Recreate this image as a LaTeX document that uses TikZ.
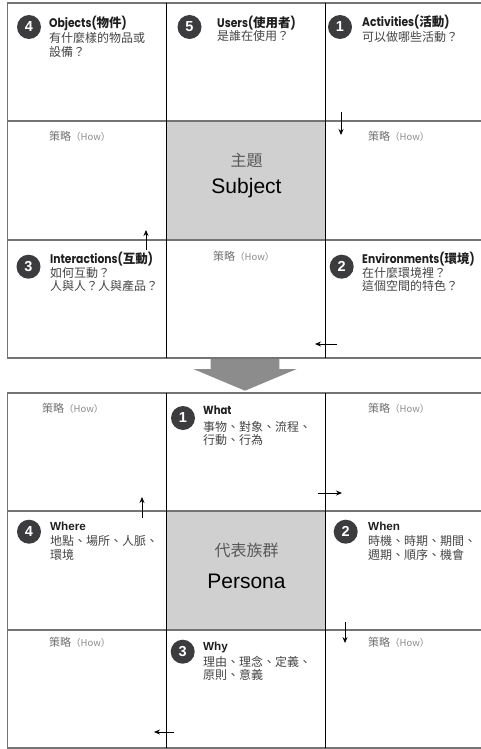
\documentclass[tikz,border=0pt]{standalone}
\usepackage{fontspec}
\setmainfont{Noto Sans CJK TC}
\newfontfamily\titlefont{Poppins}[FakeStretch=0.86]
\newfontfamily\sansfont{Liberation Sans}
\usetikzlibrary{arrows.meta}
\definecolor{hline}{HTML}{747474}
\definecolor{cellgray}{HTML}{D0D0D0}
\definecolor{circ}{HTML}{3C3C3F}
\definecolor{bodytext}{HTML}{454545}
\definecolor{howgray}{HTML}{707070}
\definecolor{bigarrow}{HTML}{8C8C8C}
\newcommand{\ttlmix}[2]{{\titlefont\bfseries #1(}{\bfseries #2}{\titlefont\bfseries )}}
\tikzset{
  hl/.style={draw=hline, line width=1.6pt},
  vl/.style={draw=black, line width=1pt},
  num/.style={circle, fill=circ, text=white, minimum size=24pt, inner sep=0pt,
    font=\sansfont\bfseries\fontsize{14.5}{14.5}\selectfont},
  ttl/.style={anchor=base west, inner sep=0pt, text=black!88,
    font=\fontsize{12.5}{13}\selectfont},
  sttl/.style={anchor=base west, inner sep=0pt, text=black!88,
    font=\sansfont\bfseries\fontsize{11.7}{13}\selectfont},
  body/.style={anchor=base west, inner sep=0pt, text=bodytext,
    font=\fontsize{12}{13}\selectfont},
  how/.style={anchor=west, inner sep=0pt, text=howgray,
    font=\fontsize{11}{12}\selectfont},
  zh/.style={inner sep=0pt, text=black!65, font=\fontsize{16}{16}\selectfont},
  en/.style={inner sep=0pt, text=black, font=\sansfont\fontsize{21}{21}\selectfont},
  flow/.style={draw=black, line width=0.8pt, -{Stealth[length=6pt,width=5pt]}}
}
\newcommand{\howtext}{策略{\fontsize{9.5}{9.5}\selectfont\color{howgray!80}（How）}}
\begin{document}
\begin{tikzpicture}[x=1pt,y=-1pt]
\useasboundingbox (0,0) rectangle (481,749);
\fill[white] (0,0) rectangle (481,749);
% center cells
\fill[cellgray] (166,121) rectangle (325,240);
\fill[cellgray] (166,511) rectangle (325,630);
% top grid
\foreach \y in {3,121,240,358} { \draw[hl] (7,\y) -- (481,\y); }
\draw[hl] (7.5,3) -- (7.5,358);
\foreach \x in {166,325} { \draw[vl] (\x,3) -- (\x,358); }
% bottom grid
\foreach \y in {393,511,630,748} { \draw[hl] (7,\y) -- (481,\y); }
\draw[hl] (7.5,393) -- (7.5,748);
\foreach \x in {166,325} { \draw[vl] (\x,393) -- (\x,748); }
% big arrow
\fill[bigarrow] (210.7,359) -- (279.3,359) -- (279.3,369) -- (296.7,369)
  -- (245,390.7) -- (193.3,369) -- (210.7,369) -- cycle;

% ---------- top grid texts ----------
\node[num] (t4) at (29,27) {4};
\node[ttl] (t4a) at (49,28) {\ttlmix{Objects}{物件}};
\node[body] (t4b) at (49,42.5) {有什麼樣的物品或};
\node[body] (t4c) at (49,56.5) {設備？};

\node[num] (t5) at (189.5,27) {5};
\node[ttl] (t5a) at (217,27.5) {\ttlmix{Users}{使用者}};
\node[body] (t5b) at (217,41) {是誰在使用？};

\node[num] (t1) at (340,27) {1};
\node[ttl] (t1a) at (362,27) {\ttlmix{Activities}{活動}};
\node[body] (t1b) at (362,41.5) {可以做哪些活動？};

\node[how] (h1) at (49,136) {\howtext};
\node[how] (h2) at (368,136) {\howtext};
\node[how] (h3) at (213,256) {\howtext};

\node[zh] (subzh) at (246.5,160.7) {主題};
\node[en] (suben) at (246.5,187.7) {Subject};

\node[num] (t3) at (28.5,266.7) {3};
\node[ttl] (t3a) at (50,263.5) {\ttlmix{Interactions}{互動}};
\node[body] (t3b) at (50,277.5) {如何互動？};
\node[body] (t3c) at (50,290.5) {人與人？人與產品？};

\node[num] (t2) at (341.7,266.7) {2};
\node[ttl] (t2a) at (362,263.5) {\ttlmix{Environments}{環境}};
\node[body] (t2b) at (362,277.5) {在什麼環境裡？};
\node[body] (t2c) at (362,290.5) {這個空間的特色？};

\coordinate (a1s) at (341,112); \coordinate (a1e) at (341,135);
\coordinate (a2s) at (146,250); \coordinate (a2e) at (146,230);
\coordinate (a3s) at (337,344); \coordinate (a3e) at (315,344);
\draw[flow] (a1s) -- (a1e);
\draw[flow] (a2s) -- (a2e);
\draw[flow] (a3s) -- (a3e);

% ---------- bottom grid texts ----------
\node[how] (h4) at (42,408) {\howtext};
\node[how] (h5) at (368,408) {\howtext};
\node[how] (h6) at (49,642) {\howtext};
\node[how] (h7) at (368,642) {\howtext};

\node[num] (b1) at (183,418) {1};
\node[ttl, font=\titlefont\bfseries\fontsize{11.7}{13}\selectfont] (b1a) at (203,414.5) {What};
\node[body] (b1b) at (203,431) {事物、對象、流程、};
\node[body] (b1c) at (203,444.5) {行動、行為};

\node[num] (b4) at (29,531.7) {4};
\node[sttl] (b4a) at (50,530) {Where};
\node[body] (b4b) at (50,545.5) {地點、場所、人脈、};
\node[body] (b4c) at (50,559.5) {環境};

\node[zh] (perzh) at (246.5,550.7) {代表族群};
\node[en] (peren) at (246.5,581) {Persona};

\node[num] (b2) at (345.7,531.7) {2};
\node[sttl] (b2a) at (368,530) {When};
\node[body] (b2b) at (368,545.5) {時機、時期、期間、};
\node[body] (b2c) at (368,559.5) {週期、順序、機會};

\node[num] (b3) at (182.7,651.7) {3};
\node[sttl] (b3a) at (203,650.5) {Why};
\node[body] (b3b) at (203,666) {理由、理念、定義、};
\node[body] (b3c) at (203,679.5) {原則、意義};

\coordinate (c1s) at (142,518); \coordinate (c1e) at (142,497);
\coordinate (c2s) at (318,493); \coordinate (c2e) at (342,493);
\coordinate (c3s) at (345,622); \coordinate (c3e) at (345,643);
\coordinate (c4s) at (174,732); \coordinate (c4e) at (154,732);
\draw[flow] (c1s) -- (c1e);
\draw[flow] (c2s) -- (c2e);
\draw[flow] (c3s) -- (c3e);
\draw[flow] (c4s) -- (c4e);
\end{tikzpicture}
\end{document}
